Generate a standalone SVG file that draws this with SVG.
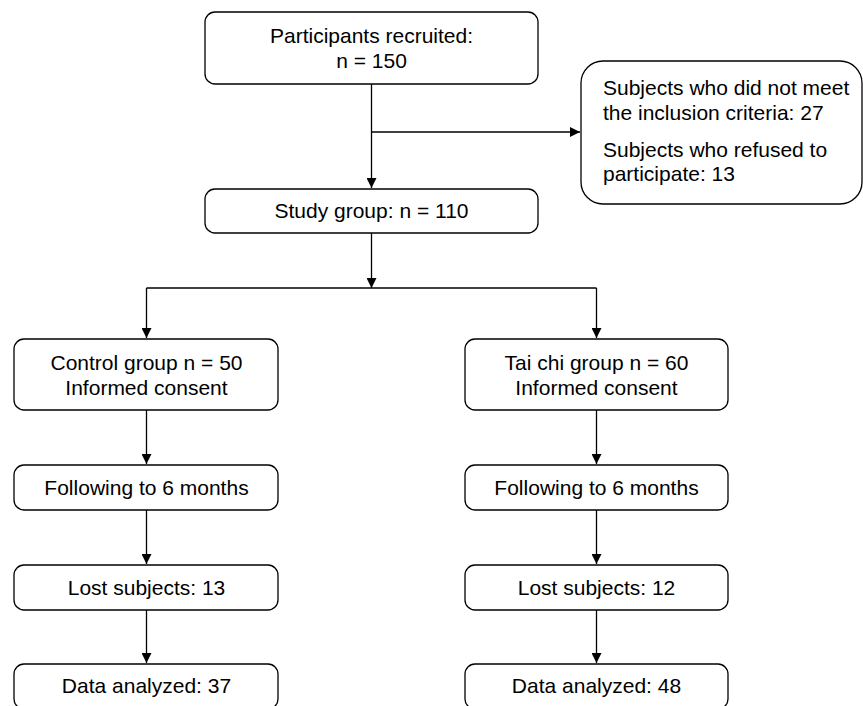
<svg xmlns="http://www.w3.org/2000/svg" width="863" height="706" viewBox="0 0 863 706">
<defs>
<style>
.box{fill:#fff;stroke:#000;stroke-width:1.3}
.t{font-family:"Liberation Sans",Arial,sans-serif;font-size:21px;fill:#000}
.c{text-anchor:middle}
.ln{fill:none;stroke:#000;stroke-width:1.3}
</style>
<marker id="ah" viewBox="0 0 10 10" refX="10" refY="5" markerWidth="10" markerHeight="10" markerUnits="userSpaceOnUse" orient="auto">
<path d="M0,0 L10,5 L0,10 Z" fill="#000"/>
</marker>
</defs>
<rect width="863" height="706" fill="#fff"/>
<g id="connectors">
<path class="ln" d="M371.5,84 V188" marker-end="url(#ah)"/>
<path class="ln" d="M371.5,132 H580" marker-end="url(#ah)"/>
<path class="ln" d="M371.5,233 V288" marker-end="url(#ah)"/>
<path class="ln" d="M146.5,288 H596.5"/>
<path class="ln" d="M146.5,288 V338" marker-end="url(#ah)"/>
<path class="ln" d="M596.5,288 V338" marker-end="url(#ah)"/>
<path class="ln" d="M146.5,410 V464" marker-end="url(#ah)"/>
<path class="ln" d="M596.5,410 V464" marker-end="url(#ah)"/>
<path class="ln" d="M146.5,510 V564" marker-end="url(#ah)"/>
<path class="ln" d="M596.5,510 V564" marker-end="url(#ah)"/>
<path class="ln" d="M146.5,610 V663" marker-end="url(#ah)"/>
<path class="ln" d="M596.5,610 V663" marker-end="url(#ah)"/>
</g>
<g id="recruited">
<rect class="box" x="205" y="12" width="333" height="72" rx="10"/>
<text class="t c" x="371.5" y="43">Participants recruited:</text>
<text class="t c" x="371.5" y="68">n = 150</text>
</g>
<g id="excluded">
<rect class="box" x="581" y="61" width="281" height="143" rx="22"/>
<text class="t" x="603" y="95">Subjects who did not meet</text>
<text class="t" x="603" y="120">the inclusion criteria: 27</text>
<text class="t" x="603" y="157">Subjects who refused to</text>
<text class="t" x="603" y="181">participate: 13</text>
</g>
<g id="study">
<rect class="box" x="205" y="189" width="333" height="44" rx="10"/>
<text class="t c" x="371.5" y="218">Study group: n = 110</text>
</g>
<g id="control">
<rect class="box" x="14" y="339" width="264" height="71" rx="10"/>
<text class="t c" x="146.5" y="370">Control group n = 50</text>
<text class="t c" x="146.5" y="395">Informed consent</text>
</g>
<g id="taichi">
<rect class="box" x="465" y="339" width="263" height="71" rx="10"/>
<text class="t c" x="596.5" y="370">Tai chi group n = 60</text>
<text class="t c" x="596.5" y="395">Informed consent</text>
</g>
<g id="follow-control">
<rect class="box" x="14" y="465" width="264" height="45" rx="10"/>
<text class="t c" x="146.5" y="495">Following to 6 months</text>
</g>
<g id="follow-taichi">
<rect class="box" x="465" y="465" width="263" height="45" rx="10"/>
<text class="t c" x="596.5" y="495">Following to 6 months</text>
</g>
<g id="lost-control">
<rect class="box" x="14" y="565" width="264" height="45" rx="10"/>
<text class="t c" x="146.5" y="595">Lost subjects: 13</text>
</g>
<g id="lost-taichi">
<rect class="box" x="465" y="565" width="263" height="45" rx="10"/>
<text class="t c" x="596.5" y="595">Lost subjects: 12</text>
</g>
<g id="data-control">
<rect class="box" x="14" y="664" width="264" height="45" rx="10"/>
<text class="t c" x="146.5" y="693">Data analyzed: 37</text>
</g>
<g id="data-taichi">
<rect class="box" x="465" y="664" width="263" height="45" rx="10"/>
<text class="t c" x="596.5" y="693">Data analyzed: 48</text>
</g>
</svg>
